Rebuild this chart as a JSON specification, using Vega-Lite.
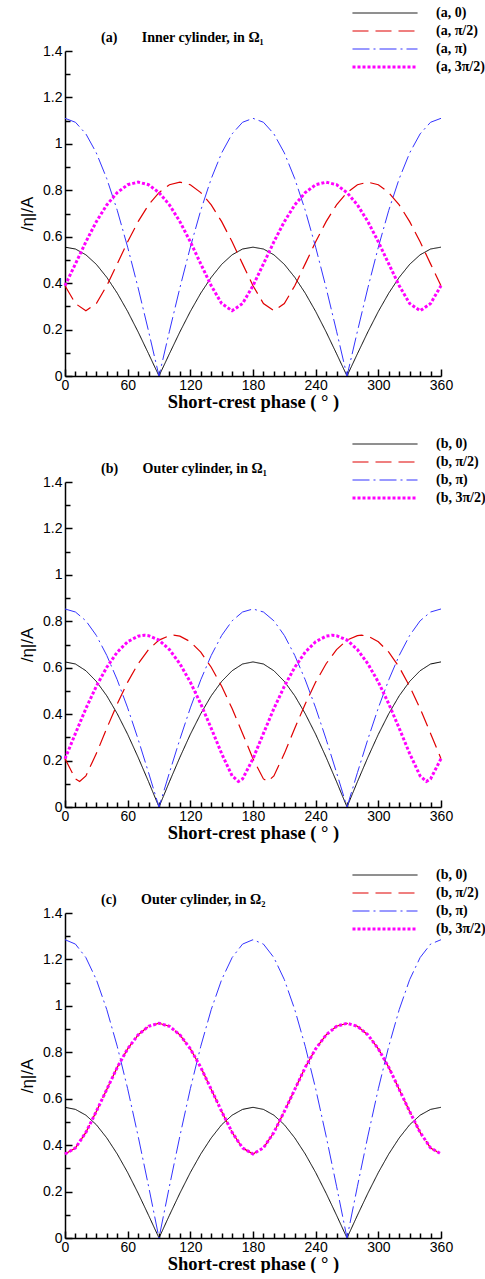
{
"$schema": "https://vega.github.io/schema/vega-lite/v6.json",
"padding": {"left": 18, "top": 4, "right": 5, "bottom": 0},
"spacing": 24,
"config": {
  "view": {"stroke": null},
  "axis": {"grid": false, "domainColor": "black", "domainWidth": 1.5, "tickColor": "black", "tickWidth": 1.5, "labelFont": "Liberation Sans", "labelFontSize": 14, "labelColor": "black", "titleColor": "black"}
},
"resolve": {"scale": {"color": "independent", "strokeDash": "independent", "strokeWidth": "independent"}},
"datasets": {
"a": [
{"x":0,"s":"(a, 0)","y":0.555},{"x":10,"s":"(a, 0)","y":0.547},{"x":20,"s":"(a, 0)","y":0.522},{"x":30,"s":"(a, 0)","y":0.481},{"x":40,"s":"(a, 0)","y":0.425},{"x":50,"s":"(a, 0)","y":0.357},{"x":60,"s":"(a, 0)","y":0.278},{"x":70,"s":"(a, 0)","y":0.19},{"x":80,"s":"(a, 0)","y":0.096},{"x":90,"s":"(a, 0)","y":0},{"x":100,"s":"(a, 0)","y":0.096},{"x":110,"s":"(a, 0)","y":0.19},{"x":120,"s":"(a, 0)","y":0.278},{"x":130,"s":"(a, 0)","y":0.357},{"x":140,"s":"(a, 0)","y":0.425},{"x":150,"s":"(a, 0)","y":0.481},{"x":160,"s":"(a, 0)","y":0.522},{"x":170,"s":"(a, 0)","y":0.547},{"x":180,"s":"(a, 0)","y":0.555},{"x":190,"s":"(a, 0)","y":0.547},{"x":200,"s":"(a, 0)","y":0.522},{"x":210,"s":"(a, 0)","y":0.481},{"x":220,"s":"(a, 0)","y":0.425},{"x":230,"s":"(a, 0)","y":0.357},{"x":240,"s":"(a, 0)","y":0.278},{"x":250,"s":"(a, 0)","y":0.19},{"x":260,"s":"(a, 0)","y":0.096},{"x":270,"s":"(a, 0)","y":0},{"x":280,"s":"(a, 0)","y":0.096},{"x":290,"s":"(a, 0)","y":0.19},{"x":300,"s":"(a, 0)","y":0.278},{"x":310,"s":"(a, 0)","y":0.357},{"x":320,"s":"(a, 0)","y":0.425},{"x":330,"s":"(a, 0)","y":0.481},{"x":340,"s":"(a, 0)","y":0.522},{"x":350,"s":"(a, 0)","y":0.547},{"x":360,"s":"(a, 0)","y":0.555},
{"x":0,"s":"(a, π/2)","y":0.389},{"x":10,"s":"(a, π/2)","y":0.312},{"x":20,"s":"(a, π/2)","y":0.281},{"x":30,"s":"(a, π/2)","y":0.312},{"x":40,"s":"(a, π/2)","y":0.389},{"x":50,"s":"(a, π/2)","y":0.483},{"x":60,"s":"(a, π/2)","y":0.578},{"x":70,"s":"(a, π/2)","y":0.665},{"x":80,"s":"(a, π/2)","y":0.737},{"x":90,"s":"(a, π/2)","y":0.79},{"x":100,"s":"(a, π/2)","y":0.824},{"x":110,"s":"(a, π/2)","y":0.835},{"x":120,"s":"(a, π/2)","y":0.824},{"x":130,"s":"(a, π/2)","y":0.79},{"x":140,"s":"(a, π/2)","y":0.737},{"x":150,"s":"(a, π/2)","y":0.665},{"x":160,"s":"(a, π/2)","y":0.578},{"x":170,"s":"(a, π/2)","y":0.483},{"x":180,"s":"(a, π/2)","y":0.389},{"x":190,"s":"(a, π/2)","y":0.312},{"x":200,"s":"(a, π/2)","y":0.281},{"x":210,"s":"(a, π/2)","y":0.312},{"x":220,"s":"(a, π/2)","y":0.389},{"x":230,"s":"(a, π/2)","y":0.483},{"x":240,"s":"(a, π/2)","y":0.578},{"x":250,"s":"(a, π/2)","y":0.665},{"x":260,"s":"(a, π/2)","y":0.737},{"x":270,"s":"(a, π/2)","y":0.79},{"x":280,"s":"(a, π/2)","y":0.824},{"x":290,"s":"(a, π/2)","y":0.835},{"x":300,"s":"(a, π/2)","y":0.824},{"x":310,"s":"(a, π/2)","y":0.79},{"x":320,"s":"(a, π/2)","y":0.737},{"x":330,"s":"(a, π/2)","y":0.665},{"x":340,"s":"(a, π/2)","y":0.578},{"x":350,"s":"(a, π/2)","y":0.483},{"x":360,"s":"(a, π/2)","y":0.389},
{"x":0,"s":"(a, π)","y":1.11},{"x":10,"s":"(a, π)","y":1.093},{"x":20,"s":"(a, π)","y":1.043},{"x":30,"s":"(a, π)","y":0.961},{"x":40,"s":"(a, π)","y":0.85},{"x":50,"s":"(a, π)","y":0.714},{"x":60,"s":"(a, π)","y":0.555},{"x":70,"s":"(a, π)","y":0.38},{"x":80,"s":"(a, π)","y":0.193},{"x":90,"s":"(a, π)","y":0},{"x":100,"s":"(a, π)","y":0.193},{"x":110,"s":"(a, π)","y":0.38},{"x":120,"s":"(a, π)","y":0.555},{"x":130,"s":"(a, π)","y":0.714},{"x":140,"s":"(a, π)","y":0.85},{"x":150,"s":"(a, π)","y":0.961},{"x":160,"s":"(a, π)","y":1.043},{"x":170,"s":"(a, π)","y":1.093},{"x":180,"s":"(a, π)","y":1.11},{"x":190,"s":"(a, π)","y":1.093},{"x":200,"s":"(a, π)","y":1.043},{"x":210,"s":"(a, π)","y":0.961},{"x":220,"s":"(a, π)","y":0.85},{"x":230,"s":"(a, π)","y":0.714},{"x":240,"s":"(a, π)","y":0.555},{"x":250,"s":"(a, π)","y":0.38},{"x":260,"s":"(a, π)","y":0.193},{"x":270,"s":"(a, π)","y":0},{"x":280,"s":"(a, π)","y":0.193},{"x":290,"s":"(a, π)","y":0.38},{"x":300,"s":"(a, π)","y":0.555},{"x":310,"s":"(a, π)","y":0.714},{"x":320,"s":"(a, π)","y":0.85},{"x":330,"s":"(a, π)","y":0.961},{"x":340,"s":"(a, π)","y":1.043},{"x":350,"s":"(a, π)","y":1.093},{"x":360,"s":"(a, π)","y":1.11},
{"x":0,"s":"(a, 3π/2)","y":0.389},{"x":10,"s":"(a, 3π/2)","y":0.483},{"x":20,"s":"(a, 3π/2)","y":0.578},{"x":30,"s":"(a, 3π/2)","y":0.665},{"x":40,"s":"(a, 3π/2)","y":0.737},{"x":50,"s":"(a, 3π/2)","y":0.79},{"x":60,"s":"(a, 3π/2)","y":0.824},{"x":70,"s":"(a, 3π/2)","y":0.835},{"x":80,"s":"(a, 3π/2)","y":0.824},{"x":90,"s":"(a, 3π/2)","y":0.79},{"x":100,"s":"(a, 3π/2)","y":0.737},{"x":110,"s":"(a, 3π/2)","y":0.665},{"x":120,"s":"(a, 3π/2)","y":0.578},{"x":130,"s":"(a, 3π/2)","y":0.483},{"x":140,"s":"(a, 3π/2)","y":0.389},{"x":150,"s":"(a, 3π/2)","y":0.312},{"x":160,"s":"(a, 3π/2)","y":0.281},{"x":170,"s":"(a, 3π/2)","y":0.312},{"x":180,"s":"(a, 3π/2)","y":0.389},{"x":190,"s":"(a, 3π/2)","y":0.483},{"x":200,"s":"(a, 3π/2)","y":0.578},{"x":210,"s":"(a, 3π/2)","y":0.665},{"x":220,"s":"(a, 3π/2)","y":0.737},{"x":230,"s":"(a, 3π/2)","y":0.79},{"x":240,"s":"(a, 3π/2)","y":0.824},{"x":250,"s":"(a, 3π/2)","y":0.835},{"x":260,"s":"(a, 3π/2)","y":0.824},{"x":270,"s":"(a, 3π/2)","y":0.79},{"x":280,"s":"(a, 3π/2)","y":0.737},{"x":290,"s":"(a, 3π/2)","y":0.665},{"x":300,"s":"(a, 3π/2)","y":0.578},{"x":310,"s":"(a, 3π/2)","y":0.483},{"x":320,"s":"(a, 3π/2)","y":0.389},{"x":330,"s":"(a, 3π/2)","y":0.312},{"x":340,"s":"(a, 3π/2)","y":0.281},{"x":350,"s":"(a, 3π/2)","y":0.312},{"x":360,"s":"(a, 3π/2)","y":0.389}
],
"b": [
{"x":0,"s":"(b, 0)","y":0.625},{"x":10,"s":"(b, 0)","y":0.616},{"x":20,"s":"(b, 0)","y":0.587},{"x":30,"s":"(b, 0)","y":0.541},{"x":40,"s":"(b, 0)","y":0.479},{"x":50,"s":"(b, 0)","y":0.402},{"x":60,"s":"(b, 0)","y":0.313},{"x":70,"s":"(b, 0)","y":0.214},{"x":80,"s":"(b, 0)","y":0.109},{"x":90,"s":"(b, 0)","y":0},{"x":100,"s":"(b, 0)","y":0.109},{"x":110,"s":"(b, 0)","y":0.214},{"x":120,"s":"(b, 0)","y":0.313},{"x":130,"s":"(b, 0)","y":0.402},{"x":140,"s":"(b, 0)","y":0.479},{"x":150,"s":"(b, 0)","y":0.541},{"x":160,"s":"(b, 0)","y":0.587},{"x":170,"s":"(b, 0)","y":0.616},{"x":180,"s":"(b, 0)","y":0.625},{"x":190,"s":"(b, 0)","y":0.616},{"x":200,"s":"(b, 0)","y":0.587},{"x":210,"s":"(b, 0)","y":0.541},{"x":220,"s":"(b, 0)","y":0.479},{"x":230,"s":"(b, 0)","y":0.402},{"x":240,"s":"(b, 0)","y":0.313},{"x":250,"s":"(b, 0)","y":0.214},{"x":260,"s":"(b, 0)","y":0.109},{"x":270,"s":"(b, 0)","y":0},{"x":280,"s":"(b, 0)","y":0.109},{"x":290,"s":"(b, 0)","y":0.214},{"x":300,"s":"(b, 0)","y":0.313},{"x":310,"s":"(b, 0)","y":0.402},{"x":320,"s":"(b, 0)","y":0.479},{"x":330,"s":"(b, 0)","y":0.541},{"x":340,"s":"(b, 0)","y":0.587},{"x":350,"s":"(b, 0)","y":0.616},{"x":360,"s":"(b, 0)","y":0.625},
{"x":0,"s":"(b, π/2)","y":0.208},{"x":10,"s":"(b, π/2)","y":0.121},{"x":14,"s":"(b, π/2)","y":0.11},{"x":20,"s":"(b, π/2)","y":0.134},{"x":30,"s":"(b, π/2)","y":0.23},{"x":40,"s":"(b, π/2)","y":0.339},{"x":50,"s":"(b, π/2)","y":0.444},{"x":60,"s":"(b, π/2)","y":0.538},{"x":70,"s":"(b, π/2)","y":0.617},{"x":80,"s":"(b, π/2)","y":0.678},{"x":90,"s":"(b, π/2)","y":0.719},{"x":100,"s":"(b, π/2)","y":0.738},{"x":104,"s":"(b, π/2)","y":0.74},{"x":110,"s":"(b, π/2)","y":0.736},{"x":120,"s":"(b, π/2)","y":0.712},{"x":130,"s":"(b, π/2)","y":0.667},{"x":140,"s":"(b, π/2)","y":0.602},{"x":150,"s":"(b, π/2)","y":0.52},{"x":160,"s":"(b, π/2)","y":0.424},{"x":170,"s":"(b, π/2)","y":0.317},{"x":180,"s":"(b, π/2)","y":0.208},{"x":190,"s":"(b, π/2)","y":0.121},{"x":194,"s":"(b, π/2)","y":0.11},{"x":200,"s":"(b, π/2)","y":0.134},{"x":210,"s":"(b, π/2)","y":0.23},{"x":220,"s":"(b, π/2)","y":0.339},{"x":230,"s":"(b, π/2)","y":0.444},{"x":240,"s":"(b, π/2)","y":0.538},{"x":250,"s":"(b, π/2)","y":0.617},{"x":260,"s":"(b, π/2)","y":0.678},{"x":270,"s":"(b, π/2)","y":0.719},{"x":280,"s":"(b, π/2)","y":0.738},{"x":284,"s":"(b, π/2)","y":0.74},{"x":290,"s":"(b, π/2)","y":0.736},{"x":300,"s":"(b, π/2)","y":0.712},{"x":310,"s":"(b, π/2)","y":0.667},{"x":320,"s":"(b, π/2)","y":0.602},{"x":330,"s":"(b, π/2)","y":0.52},{"x":340,"s":"(b, π/2)","y":0.424},{"x":350,"s":"(b, π/2)","y":0.317},{"x":360,"s":"(b, π/2)","y":0.208},
{"x":0,"s":"(b, π)","y":0.853},{"x":10,"s":"(b, π)","y":0.84},{"x":20,"s":"(b, π)","y":0.802},{"x":30,"s":"(b, π)","y":0.739},{"x":40,"s":"(b, π)","y":0.653},{"x":50,"s":"(b, π)","y":0.548},{"x":60,"s":"(b, π)","y":0.427},{"x":70,"s":"(b, π)","y":0.292},{"x":80,"s":"(b, π)","y":0.148},{"x":90,"s":"(b, π)","y":0},{"x":100,"s":"(b, π)","y":0.148},{"x":110,"s":"(b, π)","y":0.292},{"x":120,"s":"(b, π)","y":0.427},{"x":130,"s":"(b, π)","y":0.548},{"x":140,"s":"(b, π)","y":0.653},{"x":150,"s":"(b, π)","y":0.739},{"x":160,"s":"(b, π)","y":0.802},{"x":170,"s":"(b, π)","y":0.84},{"x":180,"s":"(b, π)","y":0.853},{"x":190,"s":"(b, π)","y":0.84},{"x":200,"s":"(b, π)","y":0.802},{"x":210,"s":"(b, π)","y":0.739},{"x":220,"s":"(b, π)","y":0.653},{"x":230,"s":"(b, π)","y":0.548},{"x":240,"s":"(b, π)","y":0.427},{"x":250,"s":"(b, π)","y":0.292},{"x":260,"s":"(b, π)","y":0.148},{"x":270,"s":"(b, π)","y":0},{"x":280,"s":"(b, π)","y":0.148},{"x":290,"s":"(b, π)","y":0.292},{"x":300,"s":"(b, π)","y":0.427},{"x":310,"s":"(b, π)","y":0.548},{"x":320,"s":"(b, π)","y":0.653},{"x":330,"s":"(b, π)","y":0.739},{"x":340,"s":"(b, π)","y":0.802},{"x":350,"s":"(b, π)","y":0.84},{"x":360,"s":"(b, π)","y":0.853},
{"x":0,"s":"(b, 3π/2)","y":0.208},{"x":10,"s":"(b, 3π/2)","y":0.317},{"x":20,"s":"(b, 3π/2)","y":0.424},{"x":30,"s":"(b, 3π/2)","y":0.52},{"x":40,"s":"(b, 3π/2)","y":0.602},{"x":50,"s":"(b, 3π/2)","y":0.667},{"x":60,"s":"(b, 3π/2)","y":0.712},{"x":70,"s":"(b, 3π/2)","y":0.736},{"x":76,"s":"(b, 3π/2)","y":0.74},{"x":80,"s":"(b, 3π/2)","y":0.738},{"x":90,"s":"(b, 3π/2)","y":0.719},{"x":100,"s":"(b, 3π/2)","y":0.678},{"x":110,"s":"(b, 3π/2)","y":0.617},{"x":120,"s":"(b, 3π/2)","y":0.538},{"x":130,"s":"(b, 3π/2)","y":0.444},{"x":140,"s":"(b, 3π/2)","y":0.339},{"x":150,"s":"(b, 3π/2)","y":0.23},{"x":160,"s":"(b, 3π/2)","y":0.134},{"x":166,"s":"(b, 3π/2)","y":0.11},{"x":170,"s":"(b, 3π/2)","y":0.121},{"x":180,"s":"(b, 3π/2)","y":0.208},{"x":190,"s":"(b, 3π/2)","y":0.317},{"x":200,"s":"(b, 3π/2)","y":0.424},{"x":210,"s":"(b, 3π/2)","y":0.52},{"x":220,"s":"(b, 3π/2)","y":0.602},{"x":230,"s":"(b, 3π/2)","y":0.667},{"x":240,"s":"(b, 3π/2)","y":0.712},{"x":250,"s":"(b, 3π/2)","y":0.736},{"x":256,"s":"(b, 3π/2)","y":0.74},{"x":260,"s":"(b, 3π/2)","y":0.738},{"x":270,"s":"(b, 3π/2)","y":0.719},{"x":280,"s":"(b, 3π/2)","y":0.678},{"x":290,"s":"(b, 3π/2)","y":0.617},{"x":300,"s":"(b, 3π/2)","y":0.538},{"x":310,"s":"(b, 3π/2)","y":0.444},{"x":320,"s":"(b, 3π/2)","y":0.339},{"x":330,"s":"(b, 3π/2)","y":0.23},{"x":340,"s":"(b, 3π/2)","y":0.134},{"x":346,"s":"(b, 3π/2)","y":0.11},{"x":350,"s":"(b, 3π/2)","y":0.121},{"x":360,"s":"(b, 3π/2)","y":0.208}
],
"c": [
{"x":0,"s":"(b, 0)","y":0.563},{"x":10,"s":"(b, 0)","y":0.554},{"x":20,"s":"(b, 0)","y":0.529},{"x":30,"s":"(b, 0)","y":0.488},{"x":40,"s":"(b, 0)","y":0.431},{"x":50,"s":"(b, 0)","y":0.362},{"x":60,"s":"(b, 0)","y":0.282},{"x":70,"s":"(b, 0)","y":0.193},{"x":80,"s":"(b, 0)","y":0.098},{"x":90,"s":"(b, 0)","y":0},{"x":100,"s":"(b, 0)","y":0.098},{"x":110,"s":"(b, 0)","y":0.193},{"x":120,"s":"(b, 0)","y":0.282},{"x":130,"s":"(b, 0)","y":0.362},{"x":140,"s":"(b, 0)","y":0.431},{"x":150,"s":"(b, 0)","y":0.488},{"x":160,"s":"(b, 0)","y":0.529},{"x":170,"s":"(b, 0)","y":0.554},{"x":180,"s":"(b, 0)","y":0.563},{"x":190,"s":"(b, 0)","y":0.554},{"x":200,"s":"(b, 0)","y":0.529},{"x":210,"s":"(b, 0)","y":0.488},{"x":220,"s":"(b, 0)","y":0.431},{"x":230,"s":"(b, 0)","y":0.362},{"x":240,"s":"(b, 0)","y":0.282},{"x":250,"s":"(b, 0)","y":0.193},{"x":260,"s":"(b, 0)","y":0.098},{"x":270,"s":"(b, 0)","y":0},{"x":280,"s":"(b, 0)","y":0.098},{"x":290,"s":"(b, 0)","y":0.193},{"x":300,"s":"(b, 0)","y":0.282},{"x":310,"s":"(b, 0)","y":0.362},{"x":320,"s":"(b, 0)","y":0.431},{"x":330,"s":"(b, 0)","y":0.488},{"x":340,"s":"(b, 0)","y":0.529},{"x":350,"s":"(b, 0)","y":0.554},{"x":360,"s":"(b, 0)","y":0.563},
{"x":0,"s":"(b, π/2)","y":0.362},{"x":10,"s":"(b, π/2)","y":0.388},{"x":20,"s":"(b, π/2)","y":0.455},{"x":30,"s":"(b, π/2)","y":0.545},{"x":40,"s":"(b, π/2)","y":0.64},{"x":50,"s":"(b, π/2)","y":0.735},{"x":60,"s":"(b, π/2)","y":0.815},{"x":70,"s":"(b, π/2)","y":0.875},{"x":80,"s":"(b, π/2)","y":0.912},{"x":90,"s":"(b, π/2)","y":0.925},{"x":100,"s":"(b, π/2)","y":0.912},{"x":110,"s":"(b, π/2)","y":0.875},{"x":120,"s":"(b, π/2)","y":0.815},{"x":130,"s":"(b, π/2)","y":0.735},{"x":140,"s":"(b, π/2)","y":0.64},{"x":150,"s":"(b, π/2)","y":0.545},{"x":160,"s":"(b, π/2)","y":0.455},{"x":170,"s":"(b, π/2)","y":0.388},{"x":180,"s":"(b, π/2)","y":0.362},{"x":190,"s":"(b, π/2)","y":0.388},{"x":200,"s":"(b, π/2)","y":0.455},{"x":210,"s":"(b, π/2)","y":0.545},{"x":220,"s":"(b, π/2)","y":0.64},{"x":230,"s":"(b, π/2)","y":0.735},{"x":240,"s":"(b, π/2)","y":0.815},{"x":250,"s":"(b, π/2)","y":0.875},{"x":260,"s":"(b, π/2)","y":0.912},{"x":270,"s":"(b, π/2)","y":0.925},{"x":280,"s":"(b, π/2)","y":0.912},{"x":290,"s":"(b, π/2)","y":0.875},{"x":300,"s":"(b, π/2)","y":0.815},{"x":310,"s":"(b, π/2)","y":0.735},{"x":320,"s":"(b, π/2)","y":0.64},{"x":330,"s":"(b, π/2)","y":0.545},{"x":340,"s":"(b, π/2)","y":0.455},{"x":350,"s":"(b, π/2)","y":0.388},{"x":360,"s":"(b, π/2)","y":0.362},
{"x":0,"s":"(b, π)","y":1.285},{"x":10,"s":"(b, π)","y":1.266},{"x":20,"s":"(b, π)","y":1.208},{"x":30,"s":"(b, π)","y":1.113},{"x":40,"s":"(b, π)","y":0.984},{"x":50,"s":"(b, π)","y":0.826},{"x":60,"s":"(b, π)","y":0.643},{"x":70,"s":"(b, π)","y":0.439},{"x":80,"s":"(b, π)","y":0.223},{"x":90,"s":"(b, π)","y":0},{"x":100,"s":"(b, π)","y":0.223},{"x":110,"s":"(b, π)","y":0.439},{"x":120,"s":"(b, π)","y":0.643},{"x":130,"s":"(b, π)","y":0.826},{"x":140,"s":"(b, π)","y":0.984},{"x":150,"s":"(b, π)","y":1.113},{"x":160,"s":"(b, π)","y":1.208},{"x":170,"s":"(b, π)","y":1.266},{"x":180,"s":"(b, π)","y":1.285},{"x":190,"s":"(b, π)","y":1.266},{"x":200,"s":"(b, π)","y":1.208},{"x":210,"s":"(b, π)","y":1.113},{"x":220,"s":"(b, π)","y":0.984},{"x":230,"s":"(b, π)","y":0.826},{"x":240,"s":"(b, π)","y":0.643},{"x":250,"s":"(b, π)","y":0.439},{"x":260,"s":"(b, π)","y":0.223},{"x":270,"s":"(b, π)","y":0},{"x":280,"s":"(b, π)","y":0.223},{"x":290,"s":"(b, π)","y":0.439},{"x":300,"s":"(b, π)","y":0.643},{"x":310,"s":"(b, π)","y":0.826},{"x":320,"s":"(b, π)","y":0.984},{"x":330,"s":"(b, π)","y":1.113},{"x":340,"s":"(b, π)","y":1.208},{"x":350,"s":"(b, π)","y":1.266},{"x":360,"s":"(b, π)","y":1.285},
{"x":0,"s":"(b, 3π/2)","y":0.362},{"x":10,"s":"(b, 3π/2)","y":0.388},{"x":20,"s":"(b, 3π/2)","y":0.455},{"x":30,"s":"(b, 3π/2)","y":0.545},{"x":40,"s":"(b, 3π/2)","y":0.64},{"x":50,"s":"(b, 3π/2)","y":0.735},{"x":60,"s":"(b, 3π/2)","y":0.815},{"x":70,"s":"(b, 3π/2)","y":0.875},{"x":80,"s":"(b, 3π/2)","y":0.912},{"x":90,"s":"(b, 3π/2)","y":0.925},{"x":100,"s":"(b, 3π/2)","y":0.912},{"x":110,"s":"(b, 3π/2)","y":0.875},{"x":120,"s":"(b, 3π/2)","y":0.815},{"x":130,"s":"(b, 3π/2)","y":0.735},{"x":140,"s":"(b, 3π/2)","y":0.64},{"x":150,"s":"(b, 3π/2)","y":0.545},{"x":160,"s":"(b, 3π/2)","y":0.455},{"x":170,"s":"(b, 3π/2)","y":0.388},{"x":180,"s":"(b, 3π/2)","y":0.362},{"x":190,"s":"(b, 3π/2)","y":0.388},{"x":200,"s":"(b, 3π/2)","y":0.455},{"x":210,"s":"(b, 3π/2)","y":0.545},{"x":220,"s":"(b, 3π/2)","y":0.64},{"x":230,"s":"(b, 3π/2)","y":0.735},{"x":240,"s":"(b, 3π/2)","y":0.815},{"x":250,"s":"(b, 3π/2)","y":0.875},{"x":260,"s":"(b, 3π/2)","y":0.912},{"x":270,"s":"(b, 3π/2)","y":0.925},{"x":280,"s":"(b, 3π/2)","y":0.912},{"x":290,"s":"(b, 3π/2)","y":0.875},{"x":300,"s":"(b, 3π/2)","y":0.815},{"x":310,"s":"(b, 3π/2)","y":0.735},{"x":320,"s":"(b, 3π/2)","y":0.64},{"x":330,"s":"(b, 3π/2)","y":0.545},{"x":340,"s":"(b, 3π/2)","y":0.455},{"x":350,"s":"(b, 3π/2)","y":0.388},{"x":360,"s":"(b, 3π/2)","y":0.362}
]
},
"vconcat": [
{
 "width": 376, "height": 325,
 "data": {"name": "a"},
 "title": {"text": "(a)\u00a0\u00a0\u00a0\u00a0\u00a0\u00a0\u00a0Inner cylinder, in Ω₁", "frame": "group", "anchor": "start", "dx": 36, "dy": 41, "offset": 0, "font": "Liberation Serif", "fontSize": 14, "fontWeight": "bold", "color": "black"},
 "mark": {"type": "line"},
 "encoding": {
  "x": {"field": "x", "type": "quantitative", "scale": {"domain": [0, 360], "nice": false, "zero": false},
        "axis": {"values": [0,10,20,30,40,50,60,70,80,90,100,110,120,130,140,150,160,170,180,190,200,210,220,230,240,250,260,270,280,290,300,310,320,330,340,350,360], "labelExpr": "datum.value % 60 == 0 ? datum.label : ''", "tickSize": {"condition": {"test": "datum.value % 60 == 0", "value": -7}, "value": -5}, "labelPadding": 9, "labelFlush": false, "labelOverlap": false, "labelBound": false, "title": "Short-crest phase ( ° )", "titleFont": "Liberation Serif", "titleFontSize": 18.5, "titleFontWeight": "bold", "titlePadding": -2}},
  "y": {"field": "y", "type": "quantitative", "scale": {"domain": [0, 1.4], "nice": false},
        "axis": {"values": [0,0.1,0.2,0.3,0.4,0.5,0.6,0.7,0.8,0.9,1,1.1,1.2,1.3,1.4], "labelExpr": "round(datum.value*10) % 2 == 0 ? format(datum.value, '~g') : ''", "tickSize": {"condition": {"test": "round(datum.value*10) % 2 == 0", "value": -7}, "value": -5}, "labelPadding": 10, "labelFlush": false, "labelOverlap": false, "title": "/η|/A", "titleFont": "Liberation Sans", "titleFontSize": 17, "titleFontWeight": "normal", "titlePadding": 6}},
  "color": {"field": "s", "type": "nominal", "scale": {"domain": ["(a, 0)", "(a, π/2)", "(a, π)", "(a, 3π/2)"], "range": ["#000000", "#e00000", "#3333ff", "#ff00ff"]},
            "legend": {"title": null, "orient": "none", "legendX": 286, "legendY": -47, "symbolType": "stroke", "symbolSize": 4225, "clipHeight": 18, "labelFont": "Liberation Serif", "labelFontSize": 14, "labelFontWeight": "bold", "labelColor": "black", "labelOffset": 17, "labelLimit": 300, "rowPadding": 0, "padding": 0}},
  "strokeDash": {"field": "s", "type": "nominal", "scale": {"domain": ["(a, 0)", "(a, π/2)", "(a, π)", "(a, 3π/2)"], "range": [[1,0],[16,7],[17,4,2,4],[3,2]]},
            "legend": {"title": null, "orient": "none", "legendX": 286, "legendY": -47, "symbolType": "stroke", "symbolSize": 4225, "clipHeight": 18, "labelFont": "Liberation Serif", "labelFontSize": 14, "labelFontWeight": "bold", "labelColor": "black", "labelOffset": 17, "labelLimit": 300, "rowPadding": 0, "padding": 0}},
  "strokeWidth": {"field": "s", "type": "nominal", "scale": {"type": "ordinal", "domain": ["(a, 0)", "(a, π/2)", "(a, π)", "(a, 3π/2)"], "range": [1, 1.2, 1, 3]},
            "legend": {"title": null, "orient": "none", "legendX": 286, "legendY": -47, "symbolType": "stroke", "symbolSize": 4225, "clipHeight": 18, "labelFont": "Liberation Serif", "labelFontSize": 14, "labelFontWeight": "bold", "labelColor": "black", "labelOffset": 17, "labelLimit": 300, "rowPadding": 0, "padding": 0}}
 }
},
{
 "width": 376, "height": 325,
 "data": {"name": "b"},
 "title": {"text": "(b)\u00a0\u00a0\u00a0\u00a0\u00a0\u00a0\u00a0Outer cylinder, in Ω₁", "frame": "group", "anchor": "start", "dx": 36, "dy": 41, "offset": 0, "font": "Liberation Serif", "fontSize": 14, "fontWeight": "bold", "color": "black"},
 "mark": {"type": "line"},
 "encoding": {
  "x": {"field": "x", "type": "quantitative", "scale": {"domain": [0, 360], "nice": false, "zero": false},
        "axis": {"values": [0,10,20,30,40,50,60,70,80,90,100,110,120,130,140,150,160,170,180,190,200,210,220,230,240,250,260,270,280,290,300,310,320,330,340,350,360], "labelExpr": "datum.value % 60 == 0 ? datum.label : ''", "tickSize": {"condition": {"test": "datum.value % 60 == 0", "value": -7}, "value": -5}, "labelPadding": 9, "labelFlush": false, "labelOverlap": false, "labelBound": false, "title": "Short-crest phase ( ° )", "titleFont": "Liberation Serif", "titleFontSize": 18.5, "titleFontWeight": "bold", "titlePadding": -2}},
  "y": {"field": "y", "type": "quantitative", "scale": {"domain": [0, 1.4], "nice": false},
        "axis": {"values": [0,0.1,0.2,0.3,0.4,0.5,0.6,0.7,0.8,0.9,1,1.1,1.2,1.3,1.4], "labelExpr": "round(datum.value*10) % 2 == 0 ? format(datum.value, '~g') : ''", "tickSize": {"condition": {"test": "round(datum.value*10) % 2 == 0", "value": -7}, "value": -5}, "labelPadding": 10, "labelFlush": false, "labelOverlap": false, "title": "/η|/A", "titleFont": "Liberation Sans", "titleFontSize": 17, "titleFontWeight": "normal", "titlePadding": 6}},
  "color": {"field": "s", "type": "nominal", "scale": {"domain": ["(b, 0)", "(b, π/2)", "(b, π)", "(b, 3π/2)"], "range": ["#000000", "#e00000", "#3333ff", "#ff00ff"]},
            "legend": {"title": null, "orient": "none", "legendX": 286, "legendY": -47, "symbolType": "stroke", "symbolSize": 4225, "clipHeight": 18, "labelFont": "Liberation Serif", "labelFontSize": 14, "labelFontWeight": "bold", "labelColor": "black", "labelOffset": 17, "labelLimit": 300, "rowPadding": 0, "padding": 0}},
  "strokeDash": {"field": "s", "type": "nominal", "scale": {"domain": ["(b, 0)", "(b, π/2)", "(b, π)", "(b, 3π/2)"], "range": [[1,0],[16,7],[17,4,2,4],[3,2]]},
            "legend": {"title": null, "orient": "none", "legendX": 286, "legendY": -47, "symbolType": "stroke", "symbolSize": 4225, "clipHeight": 18, "labelFont": "Liberation Serif", "labelFontSize": 14, "labelFontWeight": "bold", "labelColor": "black", "labelOffset": 17, "labelLimit": 300, "rowPadding": 0, "padding": 0}},
  "strokeWidth": {"field": "s", "type": "nominal", "scale": {"type": "ordinal", "domain": ["(b, 0)", "(b, π/2)", "(b, π)", "(b, 3π/2)"], "range": [1, 1.2, 1, 3]},
            "legend": {"title": null, "orient": "none", "legendX": 286, "legendY": -47, "symbolType": "stroke", "symbolSize": 4225, "clipHeight": 18, "labelFont": "Liberation Serif", "labelFontSize": 14, "labelFontWeight": "bold", "labelColor": "black", "labelOffset": 17, "labelLimit": 300, "rowPadding": 0, "padding": 0}}
 }
},
{
 "width": 376, "height": 325,
 "data": {"name": "c"},
 "title": {"text": "(c)\u00a0\u00a0\u00a0\u00a0\u00a0\u00a0\u00a0Outer cylinder, in Ω₂", "frame": "group", "anchor": "start", "dx": 36, "dy": 41, "offset": 0, "font": "Liberation Serif", "fontSize": 14, "fontWeight": "bold", "color": "black"},
 "mark": {"type": "line"},
 "encoding": {
  "x": {"field": "x", "type": "quantitative", "scale": {"domain": [0, 360], "nice": false, "zero": false},
        "axis": {"values": [0,10,20,30,40,50,60,70,80,90,100,110,120,130,140,150,160,170,180,190,200,210,220,230,240,250,260,270,280,290,300,310,320,330,340,350,360], "labelExpr": "datum.value % 60 == 0 ? datum.label : ''", "tickSize": {"condition": {"test": "datum.value % 60 == 0", "value": -7}, "value": -5}, "labelPadding": 9, "labelFlush": false, "labelOverlap": false, "labelBound": false, "title": "Short-crest phase ( ° )", "titleFont": "Liberation Serif", "titleFontSize": 18.5, "titleFontWeight": "bold", "titlePadding": -2}},
  "y": {"field": "y", "type": "quantitative", "scale": {"domain": [0, 1.4], "nice": false},
        "axis": {"values": [0,0.1,0.2,0.3,0.4,0.5,0.6,0.7,0.8,0.9,1,1.1,1.2,1.3,1.4], "labelExpr": "round(datum.value*10) % 2 == 0 ? format(datum.value, '~g') : ''", "tickSize": {"condition": {"test": "round(datum.value*10) % 2 == 0", "value": -7}, "value": -5}, "labelPadding": 10, "labelFlush": false, "labelOverlap": false, "title": "/η|/A", "titleFont": "Liberation Sans", "titleFontSize": 17, "titleFontWeight": "normal", "titlePadding": 6}},
  "color": {"field": "s", "type": "nominal", "scale": {"domain": ["(b, 0)", "(b, π/2)", "(b, π)", "(b, 3π/2)"], "range": ["#000000", "#e00000", "#3333ff", "#ff00ff"]},
            "legend": {"title": null, "orient": "none", "legendX": 286, "legendY": -47, "symbolType": "stroke", "symbolSize": 4225, "clipHeight": 18, "labelFont": "Liberation Serif", "labelFontSize": 14, "labelFontWeight": "bold", "labelColor": "black", "labelOffset": 17, "labelLimit": 300, "rowPadding": 0, "padding": 0}},
  "strokeDash": {"field": "s", "type": "nominal", "scale": {"domain": ["(b, 0)", "(b, π/2)", "(b, π)", "(b, 3π/2)"], "range": [[1,0],[16,7],[17,4,2,4],[3,2]]},
            "legend": {"title": null, "orient": "none", "legendX": 286, "legendY": -47, "symbolType": "stroke", "symbolSize": 4225, "clipHeight": 18, "labelFont": "Liberation Serif", "labelFontSize": 14, "labelFontWeight": "bold", "labelColor": "black", "labelOffset": 17, "labelLimit": 300, "rowPadding": 0, "padding": 0}},
  "strokeWidth": {"field": "s", "type": "nominal", "scale": {"type": "ordinal", "domain": ["(b, 0)", "(b, π/2)", "(b, π)", "(b, 3π/2)"], "range": [1, 1.2, 1, 3]},
            "legend": {"title": null, "orient": "none", "legendX": 286, "legendY": -47, "symbolType": "stroke", "symbolSize": 4225, "clipHeight": 18, "labelFont": "Liberation Serif", "labelFontSize": 14, "labelFontWeight": "bold", "labelColor": "black", "labelOffset": 17, "labelLimit": 300, "rowPadding": 0, "padding": 0}}
 }
}
]
}
